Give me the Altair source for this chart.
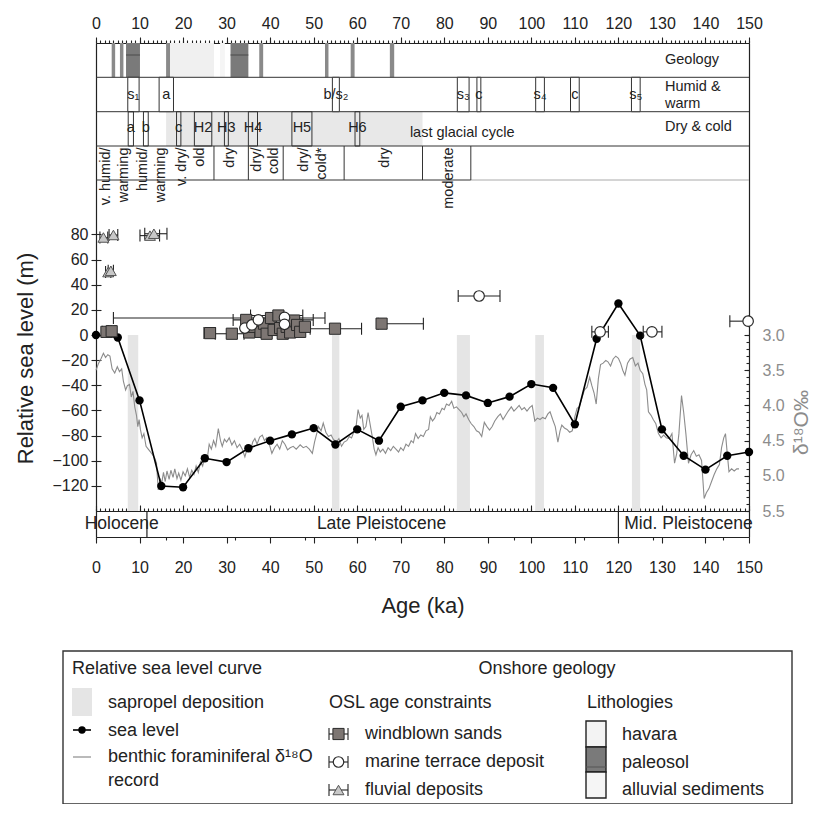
import altair as alt
import pandas as pd

FONT = "Liberation Sans"
INK = "#222222"
GREY = "#8c8c8c"

# ---------------- layout constants ----------------
W, H = 653, 494
PX_PER_M = 1.258
ZERO_PX = 292
Y_DOM = [-(H - ZERO_PX) / PX_PER_M, ZERO_PX / PX_PER_M]
D_DOM = [3.0 - Y_DOM[1] / 56.0, 3.0 - Y_DOM[0] / 56.0]
X0_PAGE, Y0_PAGE = 96, 43
ROW = [0, 34.3, 68.7, 103, 137]
MID_RULER = 468
CAP_M = 6 / PX_PER_M


def m_at(px):
    return (ZERO_PX - px) / PX_PER_M


# ---------------- data ----------------
sl_age = [0, 5, 10, 15, 20, 25, 30, 35, 40, 45, 50, 55, 60, 65, 70, 75, 80, 85,
          90, 95, 100, 105, 110, 115, 120, 125, 130, 135, 140, 145, 150]
sl_m = [0, -2, -52, -120, -121, -98, -101, -90, -84, -79, -74, -87, -75, -84,
        -57, -52, -46, -48, -54, -49, -39, -42, -71, -3, 25, -0.5, -75, -96,
        -107, -96, -93]

d18_age = [0.0, 0.6, 1.2, 1.7, 2.2, 2.7, 3.2, 3.7, 4.3, 4.9, 5.4, 5.9, 6.3, 6.8,
           7.2, 7.7, 8.1, 8.5, 8.9, 9.3, 9.6, 9.9, 10.2, 10.6, 11.0, 11.5, 12.0,
           12.5, 13.0, 13.5, 13.9, 14.3, 14.7, 15.1, 15.5, 15.9, 16.3, 16.8,
           17.2, 17.7, 18.1, 18.6, 19.0, 19.5, 20.0, 20.5, 21.0, 21.5, 22.0,
           22.5, 23.0, 23.5, 24.0, 24.5, 25.0, 25.5, 26.0, 26.5, 27.0, 27.5,
           28.1, 28.6, 29.0, 29.5, 30.0, 30.6, 31.2, 31.8, 32.4, 33.0, 33.6,
           34.2, 34.8, 35.4, 36.0, 36.5, 37.0, 37.6, 38.2, 38.7, 39.2, 39.8,
           40.4, 41.0, 41.6, 42.2, 42.8, 43.4, 44.0, 44.6, 45.3, 46.0, 46.9,
           47.6, 48.3, 49.0, 49.7, 50.2, 50.7, 51.1, 51.7, 52.2, 52.8, 53.4,
           54.0, 54.5, 55.2, 55.8, 56.4, 57.0, 57.6, 58.2, 58.7, 59.2, 59.7,
           60.2, 60.7, 61.1, 61.5, 62.0, 62.5, 63.0, 63.4, 63.9, 64.3, 64.8,
           65.3, 65.9, 66.5, 67.1, 67.7, 68.3, 68.9, 69.5, 70.0, 70.6, 71.2,
           71.8, 72.4, 72.9, 73.4, 74.0, 74.6, 75.2, 75.8, 76.4, 76.8, 77.3,
           77.8, 78.3, 78.9, 79.5, 80.0, 80.5, 81.1, 81.7, 82.2, 82.8, 83.4,
           84.0, 84.5, 85.0, 85.6, 86.2, 86.8, 87.4, 88.0, 88.6, 89.2, 89.8,
           90.4, 91.0, 91.6, 92.3, 92.9, 93.5, 94.1, 94.7, 95.4, 96.0, 96.6,
           97.2, 97.8, 98.4, 99.0, 99.6, 100.2, 100.8, 101.4, 102.0, 102.6,
           103.2, 103.8, 104.3, 104.9, 105.5, 106.1, 106.6, 107.0, 107.6,
           108.2, 108.8, 109.4, 110.0, 110.5, 111.0, 111.6, 112.2, 112.8,
           113.4, 113.9, 114.4, 114.9, 115.4, 115.9, 116.5, 117.1, 117.6,
           118.2, 118.8, 119.4, 120.0, 120.5, 121.0, 121.5, 122.1, 122.7,
           123.3, 123.9, 124.5, 125.0, 125.6, 126.1, 126.5, 126.9, 127.5,
           128.0, 128.6, 129.2, 129.8, 130.4, 131.0, 131.7, 132.3, 132.9,
           133.4, 133.9, 134.5, 135.0, 135.5, 136.1, 136.7, 137.3, 137.9,
           138.5, 139.1, 139.7, 140.2, 140.8, 141.4, 142.0, 142.6, 143.2,
           143.7, 144.2, 144.6, 145.0, 145.4, 146.0, 146.6, 147.2, 147.7]
d18_val = [3.50, 3.40, 3.33, 3.26, 3.32, 3.28, 3.30, 3.48, 3.54, 3.45, 3.52, 3.48,
           3.66, 3.78, 3.72, 3.70, 3.88, 3.80, 4.02, 4.14, 4.30, 4.20, 4.34, 4.46,
           4.40, 4.58, 4.62, 4.66, 4.70, 4.75, 4.82, 5.20, 5.04, 5.10, 4.95, 5.08,
           4.93, 5.05, 4.92, 5.02, 4.90, 5.04, 4.96, 5.06, 4.94, 5.00, 4.90, 5.02,
           4.92, 4.98, 4.86, 4.95, 4.80, 4.86, 4.72, 4.78, 4.55, 4.62, 4.50, 4.58,
           4.33, 4.50, 4.58, 4.48, 4.52, 4.46, 4.56, 4.50, 4.60, 4.55, 4.62, 4.73,
           4.60, 4.66, 4.52, 4.47, 4.55, 4.45, 4.42, 4.50, 4.46, 4.55, 4.68, 4.60,
           4.55, 4.62, 4.50, 4.55, 4.63, 4.60, 4.58, 4.62, 4.56, 4.60, 4.58, 4.62,
           4.68, 4.52, 4.40, 4.30, 4.36, 4.25, 4.38, 4.44, 4.42, 4.48, 4.52, 4.47,
           4.58, 4.52, 4.50, 4.44, 4.46, 4.38, 4.32, 4.06, 4.18, 4.14, 4.34, 4.30,
           4.10, 4.28, 4.42, 4.62, 4.70, 4.60, 4.66, 4.62, 4.68, 4.60, 4.64, 4.58,
           4.62, 4.66, 4.60, 4.64, 4.55, 4.58, 4.50, 4.53, 4.40, 4.47, 4.42, 4.44,
           4.36, 4.34, 4.16, 4.22, 4.18, 4.10, 4.12, 4.04, 4.06, 3.98, 4.00, 3.94,
           4.04, 4.02, 4.06, 4.10, 4.16, 4.12, 4.20, 4.26, 4.30, 4.36, 4.38, 4.44,
           4.24, 4.30, 4.35, 4.30, 4.22, 4.16, 4.12, 4.20, 4.14, 4.08, 4.02, 4.08,
           4.04, 4.00, 4.06, 4.03, 4.08, 4.03, 4.00, 4.22, 4.18, 4.20, 4.17, 4.19,
           4.12, 4.09, 4.20, 4.30, 4.52, 4.36, 4.28, 4.32, 4.34, 4.38, 4.36, 4.16,
           4.04, 4.02, 3.90, 3.78, 3.74, 3.60, 3.72, 3.82, 3.98, 3.62, 3.42, 3.40,
           3.36, 3.38, 3.44, 3.34, 3.30, 3.33, 3.40, 3.50, 3.57, 3.40, 3.34, 3.32,
           3.44, 3.40, 3.50, 3.55, 3.70, 3.78, 4.09, 4.14, 4.20, 4.26, 4.40, 4.46,
           4.42, 4.46, 4.47, 4.40, 4.82, 4.68, 4.40, 3.86, 4.10, 4.40, 4.82, 4.70,
           4.64, 4.72, 4.70, 4.78, 5.32, 5.24, 5.18, 5.08, 4.98, 4.90, 4.84, 4.60,
           4.46, 4.40, 4.68, 4.94, 4.90, 4.93, 4.90, 4.90]

sap_start = [7.3, 54.2, 82.9, 100.9, 123.1]
sap_end = [9.7, 55.9, 85.9, 102.9, 125.0]

ws_age = [2.4, 3.6, 26.2, 31.2, 34.5, 35.2, 36.3, 37.8, 38.6, 39.2, 40.2, 40.8,
          41.9, 42.3, 42.9, 43.8, 44.6, 45.5, 46.2, 46.9, 48.0, 54.9, 65.6]
ws_m = [2.5, 3.0, 1.5, 1.0, 12.0, 2.0, 6.5, 2.5, 9.0, 1.0, 13.5, 4.0, 15.5, 5.5,
        1.0, 6.5, 2.0, 11.5, 8.0, 2.5, 6.5, 5.0, 9.0]
ws_lo = [1.5, 2.8, 24.8, 27.4, 31.5, None, None, None, None, None, 4.0, None,
         35.5, None, None, None, None, None, None, None, None, 49.2, 64.8]
ws_hi = [3.5, 4.4, 27.4, 34.0, 49.9, None, None, None, None, None, 52.6, None,
         47.5, None, None, None, None, None, None, None, None, 61.0, 75.2]

mt_age = [34.2, 35.8, 37.3, 43.3, 43.3, 88.0, 115.8, 127.7, 149.8]
mt_m = [5.5, 8.0, 12.0, 14.0, 8.5, 31.0, 2.5, 2.5, 11.0]
mt_lo = [None, None, None, None, None, 83.2, 113.9, 125.7, 145.6]
mt_hi = [None, None, None, None, None, 92.8, 117.7, 130.0, 150.0]

fl_age = [1.7, 4.0, 2.8, 3.4, 12.4, 13.3]
fl_m = [77.5, 79.5, 50.0, 51.0, 79.0, 80.5]
fl_lo = [0.9, 3.0, 2.2, 2.8, 10.1, 11.2]
fl_hi = [2.7, 5.0, 3.4, 4.0, 14.6, 16.3]

geo_start = [3.6, 5.5, 6.9, 16.1, 17.0, 28.5, 30.9, 37.5, 52.6, 58.5, 67.5]
geo_end = [4.4, 6.3, 10.1, 17.0, 27.1, 29.6, 35.0, 38.4, 53.4, 59.4, 68.5]
geo_kind = ["thin", "thin", "paleosol", "thin", "havara", "alluvial",
            "paleosol", "thin", "thin", "thin", "thin"]

humid_lab = ["s\u2081", "a", "b/s\u2082", "s\u2083", "c", "s\u2084", "c", "s\u2085"]
humid_start = [7.3, 14.5, 54.3, 83.0, 87.5, 101.0, 109.0, 123.0]
humid_end = [9.9, 17.8, 55.9, 85.7, 88.4, 103.0, 111.0, 125.0]

dry_lab = ["a", "b", "c", "H2", "H3", "H4", "H5", "H6"]
dry_start = [7.4, 10.9, 18.5, 22.6, 29.5, 35.0, 45.0, 59.5]
dry_end = [8.6, 12.0, 19.5, 26.6, 30.4, 37.1, 49.6, 60.6]
glacial_start, glacial_end = 16.1, 75.0

climate_lab = ["v. humid/\nwarming", "humid/\nwarming", "v. dry/\nold", "dry",
               "dry/\ncold", "dry/\ncold*", "dry", "moderate"]
climate_x = [2.4, 10.9, 19.8, 30.8, 36.9, 47.8, 66.4, 81.0]   # first text line
climate_div = [27.1, 35.0, 43.0, 57.0, 75.0, 86.1]

epoch_lab = ["Holocene", "Late Pleistocene", "Mid. Pleistocene"]
epoch_x = [5.9, 65.6, 136.1]
epoch_div = [11.7, 120.0]

TICKS10 = list(range(0, 151, 10))
TICKS1 = list(range(0, 151))
SL_TICKS = list(range(-120, 81, 20))
D_TICKS = [3.0, 3.5, 4.0, 4.5, 5.0, 5.5]
D_MINOR = [round(3.0 + 0.1 * i, 1) for i in range(26)]

# ---------------- scales & axes ----------------
xs = alt.Scale(domain=[0, 150], nice=False, zero=False)
ys = alt.Scale(domain=Y_DOM, nice=False, zero=False)
ds = alt.Scale(domain=D_DOM, nice=False, zero=False, reverse=True)


def X(f, **kw):
    return alt.X(f, type="quantitative", scale=xs, **kw)


def Y(f, **kw):
    return alt.Y(f, type="quantitative", scale=ys, **kw)


ax_bottom = alt.Axis(orient="bottom", values=TICKS10, tickSize=6, labelPadding=16,
                     labelFontSize=16, labelFlush=False, labelOverlap=False,
                     grid=False, title="Age (ka)", titleFontSize=22,
                     titleBaseline="middle", titleY=68)
ax_bottom_minor = alt.Axis(orient="bottom", values=TICKS1, tickSize=3, labels=False,
                           domain=False, grid=False, title=None)
ax_top = alt.Axis(orient="top", values=TICKS10, tickSize=6, labelPadding=6,
                  labelFontSize=16, labelFlush=False, labelOverlap=False,
                  grid=False, title=None)
ax_top_minor = alt.Axis(orient="top", values=TICKS1, tickSize=3, labels=False,
                        domain=False, grid=False, title=None)
ax_mid = alt.Axis(orient="top", offset=-MID_RULER, values=TICKS10, tickSize=6,
                  labels=False, grid=False, title=None)
ax_mid_minor = alt.Axis(orient="top", offset=-MID_RULER, values=TICKS1, tickSize=3,
                        labels=False, domain=False, grid=False, title=None)
ax_left = alt.Axis(orient="left", values=SL_TICKS, tickSize=5, labelPadding=3,
                   labelFontSize=16, grid=False, title="Relative sea level (m)",
                   titleFontSize=22, titleAngle=270, titleBaseline="middle",
                   titleX=-71, titleY=315)
ax_left_in = alt.Axis(orient="right", offset=-W, values=SL_TICKS, tickSize=5,
                      labels=False, domain=False, grid=False, title=None)
ax_right = alt.Axis(orient="right", values=D_TICKS, format=".1f", ticks=False,
                    labelPadding=13, labelFontSize=16, labelColor=GREY, grid=False,
                    title="\u03b4\u00b9\u2078O\u2030", titleColor=GREY,
                    titleFontSize=21, titleAngle=270, titleBaseline="middle",
                    titleX=52, titleY=379)
ax_right_in = alt.Axis(orient="left", offset=-W, values=D_TICKS, tickSize=5,
                       labels=False, domain=False, grid=False, title=None)
ax_right_in_minor = alt.Axis(orient="left", offset=-W, values=D_MINOR, tickSize=3,
                             labels=False, domain=False, grid=False, title=None)

# ---------------- background group ----------------
sap_df = pd.DataFrame({"s": sap_start, "e": sap_end})
sap_df["lo"] = -140.0
sap_df["hi"] = 0.0
bg_sap = alt.Chart(sap_df).mark_rect(color="#e5e5e5").encode(
    x=X("s", axis=ax_bottom), x2="e", y=Y("lo", axis=ax_left), y2="hi")

glac_df = pd.DataFrame({"s": [glacial_start], "e": [glacial_end],
                        "y0": [m_at(ROW[3])], "y1": [m_at(ROW[2])]})
bg_glac = alt.Chart(glac_df).mark_rect(color="#e8e8e8").encode(
    x=X("s"), x2="e", y=Y("y0"), y2="y1")

geo_df = pd.DataFrame({"s": geo_start, "e": geo_end, "kind": geo_kind})
geo_df["y0"] = m_at(ROW[1])
geo_df["y1"] = m_at(ROW[0])
bg_geo = alt.Chart(geo_df).mark_rect().encode(
    x=X("s"), x2="e", y=Y("y0"), y2="y1",
    color=alt.Color("kind:N", legend=None,
                    scale=alt.Scale(domain=["thin", "paleosol", "havara", "alluvial"],
                                    range=["#8a8a8a", "#7a7a7a", "#f0f0f0", "#f5f5f5"])))
bg = alt.layer(bg_sap, bg_glac, bg_geo)

# ---------------- d18O record ----------------
d18_df = pd.DataFrame({"age": d18_age, "d": d18_val})
d18 = alt.Chart(d18_df).mark_line(color=GREY, strokeWidth=1.1).encode(
    x=alt.X("age:Q", scale=xs, axis=ax_top),
    y=alt.Y("d:Q", scale=ds, axis=ax_right))

# ---------------- foreground group ----------------
hr_df = pd.DataFrame({
    "x0": [0, 0, 0, 0, 86.1],
    "x1": [150, 150, 150, 86.1, 150],
    "y": [m_at(ROW[1]), m_at(ROW[2]), m_at(ROW[3]), m_at(ROW[4]), m_at(ROW[4])],
    "col": ["#333333", "#333333", "#333333", "#333333", "#aaaaaa"]})
fg_rows = alt.Chart(hr_df).mark_rule(strokeWidth=1).encode(
    x=X("x0", axis=ax_bottom_minor), x2="x1", y=Y("y", axis=ax_left_in),
    color=alt.Color("col:N", scale=None))

pal_df = geo_df[geo_df["kind"] == "paleosol"].copy()
pal_df["yl"] = m_at(12)
fg_pal = alt.Chart(pal_df).mark_rule(color="#4a4a4a", strokeWidth=1).encode(
    x=X("s"), x2="e", y=Y("yl"))

hum_df = pd.DataFrame({"lab": humid_lab, "s": humid_start, "e": humid_end})
hum_df["c"] = (hum_df["s"] + hum_df["e"]) / 2
hum_df["y0"] = m_at(ROW[2])
hum_df["y1"] = m_at(ROW[1])
hum_df["yt"] = m_at(52)
fg_hum_box = alt.Chart(hum_df).mark_rect(fill="white", stroke="#333333",
                                         strokeWidth=1).encode(
    x=X("s"), x2="e", y=Y("y0"), y2="y1")
fg_hum_txt = alt.Chart(hum_df).mark_text(fontSize=14.5, color=INK).encode(
    x=X("c"), y=Y("yt"), text="lab:N")

dry_df = pd.DataFrame({"lab": dry_lab, "s": dry_start, "e": dry_end})
dry_df["c"] = (dry_df["s"] + dry_df["e"]) / 2
dry_df["y0"] = m_at(ROW[3])
dry_df["y1"] = m_at(ROW[2])
dry_df["yt"] = m_at(85)
fg_dry_box = alt.Chart(dry_df).mark_rect(fillOpacity=0, stroke="#333333",
                                         strokeWidth=1).encode(
    x=X("s"), x2="e", y=Y("y0"), y2="y1")
fg_dry_txt = alt.Chart(dry_df).mark_text(fontSize=14.5, color=INK).encode(
    x=X("c"), y=Y("yt"), text="lab:N")

glab_df = pd.DataFrame({"x": [72.1], "y": [m_at(90)], "t": ["last glacial cycle"]})
fg_glab = alt.Chart(glab_df).mark_text(fontSize=14.5, color=INK, align="left").encode(
    x=X("x"), y=Y("y"), text="t:N")

rowlab_df = pd.DataFrame({"x": [130.7, 130.7, 130.7],
                          "y": [m_at(17), m_at(44), m_at(84)],
                          "t": ["Geology", "Humid &\nwarm", "Dry & cold"]})
fg_rowlab = alt.Chart(rowlab_df).mark_text(fontSize=14.5, color=INK, align="left",
                                           lineBreak="\n", lineHeight=17).encode(
    x=X("x"), y=Y("y"), text="t:N")

cdiv_df = pd.DataFrame({"x": climate_div})
cdiv_df["y0"] = m_at(ROW[4])
cdiv_df["y1"] = m_at(ROW[3])
fg_cdiv = alt.Chart(cdiv_df).mark_rule(color="#333333", strokeWidth=1).encode(
    x=X("x"), y=Y("y0"), y2="y1")

clim_df = pd.DataFrame({"x": climate_x, "t": climate_lab})
clim_df["y"] = m_at(ROW[3] + 1.5)
fg_clim = alt.Chart(clim_df).mark_text(fontSize=14.5, color=INK, angle=270,
                                       align="right", baseline="middle",
                                       lineBreak="\n", lineHeight=17.5).encode(
    x=X("x"), y=Y("y"), text="t:N")

ediv_df = pd.DataFrame({"x": epoch_div})
ediv_df["y0"] = m_at(H)
ediv_df["y1"] = m_at(MID_RULER)
fg_ediv = alt.Chart(ediv_df).mark_rule(color=INK, strokeWidth=1.2).encode(
    x=X("x"), y=Y("y0"), y2="y1")
elab_df = pd.DataFrame({"x": epoch_x, "t": epoch_lab})
elab_df["y"] = m_at(481)
fg_elab = alt.Chart(elab_df).mark_text(fontSize=17.5, color=INK).encode(
    x=X("x"), y=Y("y"), text="t:N")

sl_df = pd.DataFrame({"age": sl_age, "m": sl_m})
fg_sl_line = alt.Chart(sl_df).mark_line(color="black", strokeWidth=1.6).encode(
    x=X("age"), y=Y("m"))
fg_sl_pts = alt.Chart(sl_df).mark_circle(size=70, color="black", opacity=1).encode(
    x=X("age"), y=Y("m"))


def osl(age, m, lo, hi, marker):
    df = pd.DataFrame({"age": age, "m": m, "lo": lo, "hi": hi})
    base = alt.Chart(df)
    bars = base.transform_filter("isValid(datum.lo)").mark_rule(
        color=INK, strokeWidth=1.1).encode(x=X("lo"), x2="hi", y=Y("m"))
    caps = base.transform_filter("isValid(datum.lo)").transform_fold(
        ["lo", "hi"], as_=["side", "cx"]).transform_calculate(
        c0="datum.m - %f" % CAP_M, c1="datum.m + %f" % CAP_M).mark_rule(
        color=INK, strokeWidth=1.1).encode(x=X("cx"), y=Y("c0"), y2="c1")
    pts = base.mark_point(**marker).encode(x=X("age"), y=Y("m"))
    return [bars, caps, pts]


SQUARE = dict(shape="square", filled=True, fill="#7d7673", stroke="#2a2a2a",
              strokeWidth=1, size=125, opacity=1)
CIRCLE = dict(shape="circle", filled=True, fill="white", stroke="#2a2a2a",
              strokeWidth=1.2, size=110, opacity=1)
TRI = dict(shape="triangle-up", filled=True, fill="#c8c8c8", stroke="#555555",
           strokeWidth=1, size=120, opacity=1)

fg = alt.layer(fg_rows, fg_pal, fg_hum_box, fg_hum_txt, fg_dry_box, fg_dry_txt,
               fg_glab, fg_rowlab, fg_cdiv, fg_clim, fg_ediv, fg_elab,
               fg_sl_line, fg_sl_pts,
               *osl(ws_age, ws_m, ws_lo, ws_hi, SQUARE),
               *osl(fl_age, fl_m, fl_lo, fl_hi, TRI),
               *osl(mt_age, mt_m, mt_lo, mt_hi, CIRCLE))

# ---------------- extra axes (tick rulers) ----------------
ax_df = pd.DataFrame({"x": [0, 150], "d": [3.0, 5.5]})
axA = alt.Chart(ax_df).mark_point(opacity=0).encode(
    x=alt.X("x:Q", scale=xs, axis=ax_top_minor),
    y=alt.Y("d:Q", scale=ds, axis=ax_right_in))
axB = alt.Chart(ax_df).mark_point(opacity=0).encode(
    x=alt.X("x:Q", scale=xs, axis=ax_mid),
    y=alt.Y("d:Q", scale=ds, axis=ax_right_in_minor))
axC = alt.Chart(ax_df).mark_point(opacity=0).encode(
    x=alt.X("x:Q", scale=xs, axis=ax_mid_minor))

# ---------------- legend (pixel positions) ----------------
def px(v):
    return v - X0_PAGE


def py(v):
    return v - Y0_PAGE


PXS = dict(type="quantitative", scale=None)

rect_df = pd.DataFrame({
    "x0": [px(63), px(72), px(586), px(586), px(586)],
    "x1": [px(792), px(92), px(606), px(606), px(606)],
    "y0": [py(651), py(688), py(721), py(747), py(772)],
    "y1": [py(804), py(716), py(747), py(772), py(798)],
    "fill": ["transparent", "#e5e5e5", "#f3f3f3", "#7a7a7a", "#f5f5f5"],
    "stroke": ["#333333", "transparent", "#222222", "#222222", "#222222"]})
leg_rect = alt.Chart(rect_df).mark_rect(strokeWidth=1.4).encode(
    x=alt.X("x0", **PXS), x2="x1", y=alt.Y("y0", **PXS), y2="y1",
    fill=alt.Fill("fill:N", scale=None), stroke=alt.Stroke("stroke:N", scale=None))

lrule_df = pd.DataFrame({
    "x0": [px(73), px(73), px(586), px(329), px(329), px(329)],
    "x1": [px(91), px(91), px(606), px(348), px(348), px(348)],
    "y": [py(730), py(757), py(767), py(734), py(762), py(790)],
    "col": ["black", GREY, "#555555", INK, INK, INK],
    "w": [1.6, 1.2, 1.0, 1.1, 1.1, 1.1]})
leg_rule = alt.Chart(lrule_df).mark_rule().encode(
    x=alt.X("x0", **PXS), x2="x1", y=alt.Y("y", **PXS),
    color=alt.Color("col:N", scale=None),
    strokeWidth=alt.StrokeWidth("w:Q", scale=None))

lcap_df = pd.DataFrame({"x": [px(329), px(348)] * 3,
                        "yc": [py(734)] * 2 + [py(762)] * 2 + [py(790)] * 2})
leg_cap = alt.Chart(lcap_df).transform_calculate(
    y0="datum.yc - 6", y1="datum.yc + 6").mark_rule(
    color=INK, strokeWidth=1.1).encode(
    x=alt.X("x", **PXS), y=alt.Y("y0", **PXS), y2="y1")

leg_dot = alt.Chart(pd.DataFrame({"x": [px(82)], "y": [py(730)]})).mark_circle(
    size=55, color="black", opacity=1).encode(x=alt.X("x", **PXS), y=alt.Y("y", **PXS))
leg_sq = alt.Chart(pd.DataFrame({"x": [px(338.5)], "y": [py(734)]})).mark_point(
    **SQUARE).encode(x=alt.X("x", **PXS), y=alt.Y("y", **PXS))
leg_ci = alt.Chart(pd.DataFrame({"x": [px(338.5)], "y": [py(762)]})).mark_point(
    **CIRCLE).encode(x=alt.X("x", **PXS), y=alt.Y("y", **PXS))
leg_tr = alt.Chart(pd.DataFrame({"x": [px(338.5)], "y": [py(790)]})).mark_point(
    **TRI).encode(x=alt.X("x", **PXS), y=alt.Y("y", **PXS))

ltxt_df = pd.DataFrame({
    "t": ["Relative sea level curve", "sapropel deposition", "sea level",
          "benthic foraminiferal \u03b4\u00b9\u2078O", "record",
          "OSL age constraints", "windblown sands", "marine terrace deposit",
          "fluvial deposits", "Lithologies", "havara", "paleosol",
          "alluvial sediments"],
    "x": [px(v) for v in [72, 108, 108, 108, 108, 329, 365, 365, 365, 587, 622,
                          622, 622]],
    "y": [py(v) for v in [669, 703, 731, 757, 781, 703, 734, 762, 790, 703, 735,
                          763, 790]]})
leg_txt = alt.Chart(ltxt_df).mark_text(fontSize=18, color=INK, align="left",
                                       baseline="middle").encode(
    x=alt.X("x", **PXS), y=alt.Y("y", **PXS), text="t:N")
leg_txt2 = alt.Chart(pd.DataFrame({"t": ["Onshore geology"], "x": [px(547)],
                                   "y": [py(669)]})).mark_text(
    fontSize=18, color=INK, align="center", baseline="middle").encode(
    x=alt.X("x", **PXS), y=alt.Y("y", **PXS), text="t:N")

legend = alt.layer(leg_rect, leg_rule, leg_cap, leg_dot, leg_sq, leg_ci, leg_tr,
                   leg_txt, leg_txt2)

chart = alt.layer(bg, d18, fg, axA, axB, axC, legend).resolve_scale(
    x="independent", y="independent"
).properties(
    width=W, height=H,
    autosize=alt.AutoSizeParams(type="none"),
    padding={"left": 88, "top": 35, "right": 67, "bottom": 267},
).configure_view(stroke=None).configure_axis(
    grid=False, labelFont=FONT, titleFont=FONT, titleFontWeight="normal",
    domainColor=INK, tickColor=INK, labelColor=INK, titleColor=INK,
    domainWidth=1.2, tickWidth=1.1
).configure_text(font=FONT)

chart.save("out.html", embed_options={"renderer": "svg", "actions": False})
